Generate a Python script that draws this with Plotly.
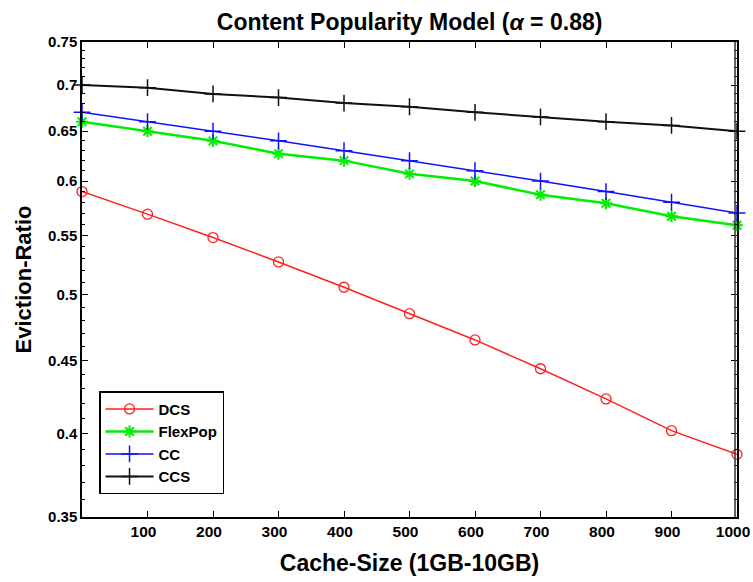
import plotly.graph_objects as go

cache_size = [0, 100, 200, 300, 400, 500, 600, 700, 800, 900, 1000]
dcs = [0.590, 0.569, 0.548, 0.527, 0.506, 0.485, 0.465, 0.444, 0.423, 0.402, 0.387]
flexpop = [0.660, 0.650, 0.640, 0.627, 0.620, 0.607, 0.600, 0.587, 0.579, 0.567, 0.559]
cc = [0.670, 0.660, 0.650, 0.640, 0.630, 0.620, 0.610, 0.600, 0.590, 0.580, 0.570]
ccs = [0.700, 0.697, 0.690, 0.686, 0.680, 0.676, 0.670, 0.665, 0.660, 0.656, 0.650]

x_ticks = [100, 200, 300, 400, 500, 600, 700, 800, 900, 1000]
y_ticks = [0.35, 0.4, 0.45, 0.5, 0.55, 0.6, 0.65, 0.7, 0.75]
y_labels = ["0.35", "0.4", "0.45", "0.5", "0.55", "0.6", "0.65", "0.7", "0.75"]

fig = go.Figure()
fig.add_trace(go.Scatter(x=cache_size, y=dcs, name="<b>DCS</b>", mode="lines+markers", cliponaxis=False,
                         line=dict(color="#ff2020", width=1.5),
                         marker=dict(symbol="circle-open", size=10, color="#ff2020", line=dict(width=1.3))))
fig.add_trace(go.Scatter(x=cache_size, y=flexpop, name="<b>FlexPop</b>", mode="lines+markers", cliponaxis=False,
                         line=dict(color="#00ee00", width=2.5),
                         marker=dict(symbol="asterisk-open", size=10, color="#00ee00", line=dict(width=2, color="#00ee00"))))
fig.add_trace(go.Scatter(x=cache_size, y=cc, name="<b>CC</b>", mode="lines+markers", cliponaxis=False,
                         line=dict(color="#1010ff", width=1.5),
                         marker=dict(symbol="cross-thin-open", size=12, color="#1010ff", line=dict(width=1.5, color="#1010ff"))))
fig.add_trace(go.Scatter(x=cache_size, y=ccs, name="<b>CCS</b>", mode="lines+markers", cliponaxis=False,
                         line=dict(color="#111111", width=2),
                         marker=dict(symbol="cross-thin-open", size=12, color="#111111", line=dict(width=1.5, color="#111111"))))

font_b = "Liberation Sans, Arial, sans-serif"

fig.update_layout(
    width=753, height=582,
    margin=dict(l=82, r=16, t=42, b=65),
    paper_bgcolor="white", plot_bgcolor="white",
    font=dict(family=font_b, color="black"),
    title=dict(text="<b>Content Popularity Model (<i>α</i> = 0.88)</b>",
               x=0.544, xanchor="center", y=0.962, yanchor="middle",
               font=dict(size=23, family=font_b, color="black")),
    showlegend=True,
    legend=dict(x=0.026, y=0.048, xanchor="left", yanchor="bottom",
                bgcolor="white", bordercolor="black", borderwidth=1.5,
                font=dict(size=15, family=font_b, color="black"),
                tracegroupgap=0, itemwidth=48),
    shapes=[dict(type="line", xref="paper", yref="paper", x0=0.997, x1=0.997, y0=0, y1=1,
                 line=dict(color="#333333", width=1.5), layer="above")],
)
fig.update_xaxes(
    range=[0, 1000], tickvals=x_ticks, ticktext=[f"<b>{v}</b>" for v in x_ticks],
    ticks="inside", ticklen=6, tickcolor="black", tickfont=dict(size=15.5),
    showline=True, linecolor="black", linewidth=1.5, mirror="ticks",
    showgrid=False, zeroline=False, automargin=False, ticklabeloverflow="allow",
    ticklabelshift=-4,
    title=dict(text="<b>Cache-Size (1GB-10GB)</b>", font=dict(size=23), standoff=16),
)
fig.update_yaxes(
    type="log", range=[-0.45593195565, -0.12493873660],
    tickvals=y_ticks, ticktext=[f"<b>{t}</b>" for t in y_labels],
    ticks="inside", ticklen=6, tickcolor="black", tickfont=dict(size=15),
    showline=True, linecolor="black", linewidth=1.5, mirror="ticks",
    showgrid=False, zeroline=False, automargin=False,
    minor=dict(tickvals=[round(0.35 + 0.01 * i, 2) for i in range(41)], ticks="inside", ticklen=3, tickcolor="black"),
    title=dict(text="<b>Eviction-Ratio</b>", font=dict(size=22), standoff=10),
)

fig.write_html(
    "out.html",
    config={"displayModeBar": False},
    post_script="document.body.style.margin='0';document.body.style.overflow='hidden';",
)
